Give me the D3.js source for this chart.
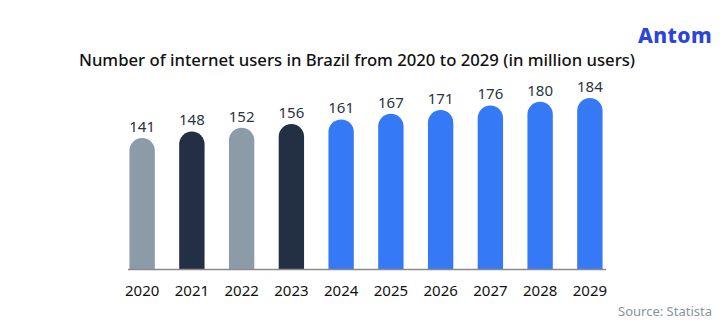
<!DOCTYPE html>
<html>
<head>
<meta charset="utf-8">
<script src="https://cdn.jsdelivr.net/npm/d3@7"></script>
<style>
  body { margin: 0; background: #fff; }
  svg { display: block; font-family: "Noto Sans", "Open Sans", sans-serif; }
</style>
</head>
<body>
<svg id="chart" width="728" height="328"></svg>
<script>
const years = ['2020', '2021', '2022', '2023', '2024', '2025', '2026', '2027', '2028', '2029'];
const users = [141, 148, 152, 156, 161, 167, 171, 176, 180, 184];
// historical years alternate grey / navy, forecast years are blue
const barKind = ['past', 'pastDark', 'past', 'pastDark', 'fc', 'fc', 'fc', 'fc', 'fc', 'fc'];

const svg = d3.select('#chart');
const baseY = 269;

const kindColor = d3.scaleOrdinal()
  .domain(['past', 'pastDark', 'fc'])
  .range(['#8b9ba8', '#232f42', '#3579f6']);

const x = d3.scaleBand()
  .domain(years)
  .range([117, 615])
  .paddingInner(0.49)
  .paddingOuter(0.25);

const y = d3.scaleLinear()
  .domain([0, 184])
  .range([baseY, 98]);

const data = years.map((yr, i) => ({ year: yr, value: users[i], kind: barKind[i] }));

// title
svg.append('text')
  .attr('x', 357)
  .attr('y', 66)
  .attr('text-anchor', 'middle')
  .attr('font-size', 16.7)
  .attr('font-weight', 500)
  .attr('fill', '#111')
  .text('Number of internet users in Brazil from 2020 to 2029 (in million users)');

// logo text
svg.append('text')
  .attr('x', 712)
  .attr('y', 43)
  .attr('text-anchor', 'end')
  .attr('font-size', 21)
  .attr('font-weight', 800)
  .attr('fill', '#2b45d9')
  .attr('letter-spacing', 0.4)
  .text('Antom');

// bars with rounded tops
function barPath(d) {
  const x0 = x(d.year), w = x.bandwidth(), r = w / 2;
  const top = y(d.value);
  return `M${x0},${baseY}V${top + r}A${r},${r} 0 0 1 ${x0 + w},${top + r}V${baseY}Z`;
}

svg.append('g')
  .selectAll('path')
  .data(data)
  .enter().append('path')
  .attr('d', barPath)
  .attr('fill', d => kindColor(d.kind));

// baseline
svg.append('line')
  .attr('x1', x.range()[0] + 11)
  .attr('x2', x.range()[1] - 9)
  .attr('y1', baseY + 0.5)
  .attr('y2', baseY + 0.5)
  .attr('stroke', '#8a8a8a')
  .attr('stroke-width', 1.5);

// value labels
svg.append('g')
  .selectAll('text')
  .data(data)
  .enter().append('text')
  .attr('x', d => x(d.year) + x.bandwidth() / 2)
  .attr('y', d => y(d.value) - 6)
  .attr('text-anchor', 'middle')
  .attr('font-size', 15)
  .attr('fill', '#2b3342')
  .text(d => d.value);

// year axis
const xAxis = svg.append('g')
  .attr('transform', `translate(0,${baseY})`)
  .call(d3.axisBottom(x).tickSize(0).tickPadding(16));
xAxis.select('.domain').remove();
xAxis.selectAll('text')
  .attr('font-size', 15)
  .attr('font-family', '"Noto Sans", sans-serif')
  .attr('fill', '#111');

// source note
svg.append('text')
  .attr('x', 712)
  .attr('y', 316)
  .attr('text-anchor', 'end')
  .attr('font-size', 13)
  .attr('fill', '#8a939e')
  .text('Source: Statista');
</script>
</body>
</html>
